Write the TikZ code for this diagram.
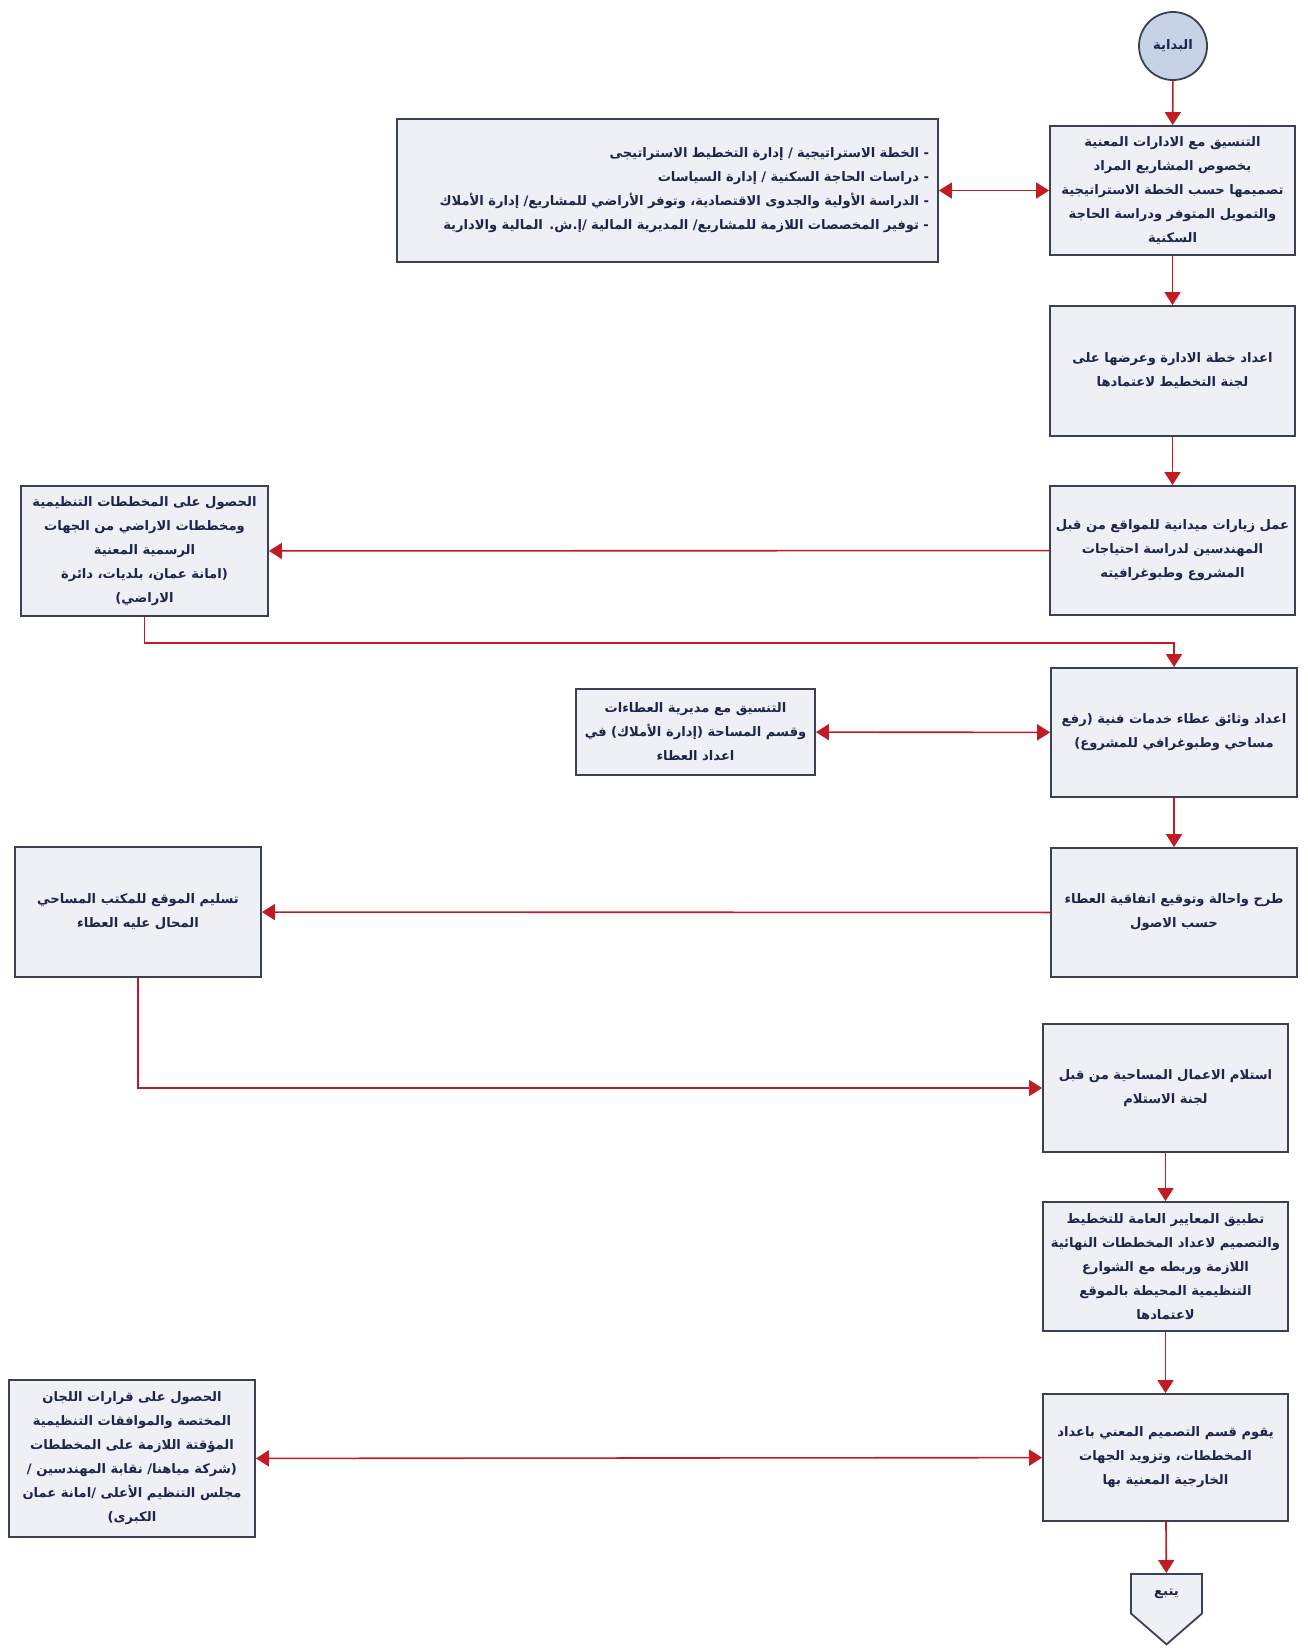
\documentclass[tikz,border=0pt]{standalone}
\usepackage{fontspec}
\newfontfamily\arabicfont[Script=Arabic]{DejaVu Sans}
\TeXXeTstate=1
\usetikzlibrary{arrows.meta,shapes.symbols}
\definecolor{boxfill}{RGB}{238,240,245}
\definecolor{boxline}{RGB}{58,66,82}
\definecolor{startfill}{RGB}{198,211,230}
\definecolor{txtcol}{RGB}{28,38,72}
\definecolor{flowred}{RGB}{192,28,34}
\newcommand{\artxt}[1]{\beginR #1\endR}
\begin{document}
\begin{tikzpicture}[x=1pt,y=-1pt,
  box/.style={draw=boxline,line width=1.8pt,fill=boxfill,text=txtcol,align=center,inner sep=3pt,
    font=\arabicfont\bfseries\fontsize{13.1}{24}\selectfont},
  flow/.style={draw=flowred,line width=1.6pt,-{Triangle[width=16pt,length=13pt]}},
  twoway/.style={flow,{Triangle[width=16pt,length=13pt]}-{Triangle[width=16pt,length=13pt]}}]
\useasboundingbox (0,0) rectangle (1307,1649);

% main column
\node[box,circle,fill=startfill,minimum size=68pt,inner sep=0pt] (start) at (1173,46) {\artxt{البداية}};
\node[box,minimum width=245pt,minimum height=129pt] (b1) at (1172.5,190.5)
  {\artxt{التنسيق مع الادارات المعنية}\\\artxt{بخصوص المشاريع  المراد}\\\artxt{تصميمها حسب الخطة الاستراتيجية}\\\artxt{والتمويل المتوفر ودراسة الحاجة}\\\artxt{السكنية}};
\node[box,minimum width=245pt,minimum height=130pt] (b2) at (1172.5,371)
  {\artxt{اعداد خطة الادارة وعرضها على}\\\artxt{لجنة التخطيط لاعتمادها}};
\node[box,minimum width=245pt,minimum height=129pt] (b3) at (1172.5,550.5)
  {\artxt{عمل زيارات ميدانية للمواقع من قبل}\\\artxt{المهندسين لدراسة احتياجات}\\\artxt{المشروع وطبوغرافيته}};
\node[box,minimum width=246pt,minimum height=129pt] (b4) at (1174,732.5)
  {\artxt{اعداد وثائق عطاء خدمات فنية (رفع}\\\artxt{مساحي وطبوغرافي للمشروع)}};
\node[box,minimum width=246pt,minimum height=129pt] (b5) at (1174,912.5)
  {\artxt{طرح واحالة وتوقيع اتفاقية العطاء}\\\artxt{حسب الاصول}};
\node[box,minimum width=245pt,minimum height=128pt] (b6) at (1165.5,1088)
  {\artxt{استلام الاعمال المساحية من قبل}\\\artxt{لجنة الاستلام}};
\node[box,minimum width=245pt,minimum height=129pt] (b7) at (1165.5,1266.5)
  {\artxt{تطبيق المعايير العامة للتخطيط}\\\artxt{والتصميم لاعداد المخططات النهائية}\\\artxt{اللازمة وربطه مع الشوارع}\\\artxt{التنظيمية المحيطة بالموقع}\\\artxt{لاعتمادها}};
\node[box,minimum width=245pt,minimum height=127pt] (b8) at (1165.5,1457.5)
  {\artxt{يقوم قسم التصميم المعني باعداد}\\\artxt{المخططات، وتزويد الجهات}\\\artxt{الخارجية المعنية بها}};
\node[box,shape=signal,signal to=south,signal from=nowhere,signal pointer angle=98,
  minimum width=71pt,minimum height=52pt,inner sep=2pt,anchor=north] (stop) at (1166.5,1573) {\artxt{يتبع}};

% side boxes
\node[box,align=right,text width=523pt,inner sep=9pt,minimum height=143pt] (info) at (667.5,190.5)
  {\artxt{- الخطة الاستراتيجية / إدارة التخطيط الاستراتيجى}\\
   \artxt{- دراسات الحاجة السكنية / إدارة السياسات}\\
   \artxt{- الدراسة الأولية والجدوى الاقتصادية، وتوفر الأراضي للمشاريع/ إدارة الأملاك}\\
   \artxt{- توفير المخصصات اللازمة للمشاريع/ المديرية المالية /إ.ش. المالية والادارية}};
\node[box,minimum width=247pt,minimum height=130pt] (l1) at (144.5,551)
  {\artxt{الحصول على المخططات التنظيمية}\\\artxt{ومخططات الاراضي من الجهات}\\\artxt{الرسمية المعنية}\\\artxt{(امانة عمان، بلديات، دائرة}\\\artxt{الاراضي)}};
\node[box,minimum width=239pt,minimum height=86pt] (l2) at (695.5,732)
  {\artxt{التنسيق مع مديرية العطاءات}\\\artxt{وقسم المساحة (إدارة الأملاك) في}\\\artxt{اعداد العطاء}};
\node[box,minimum width=246pt,minimum height=130pt] (l3) at (138,912)
  {\artxt{تسليم الموقع للمكتب المساحي}\\\artxt{المحال عليه العطاء}};
\node[box,minimum width=246pt,minimum height=157pt] (l4) at (132,1458.5)
  {\artxt{الحصول على قرارات اللجان}\\\artxt{المختصة والموافقات التنظيمية}\\\artxt{المؤقتة اللازمة على المخططات}\\\artxt{(شركة مياهنا/ نقابة المهندسين /}\\\artxt{مجلس التنظيم الأعلى /امانة عمان}\\\artxt{الكبرى)}};

\coordinate (j1) at (144.5,643);

% connectors
\draw[flow] (start) -- (b1);
\draw[twoway] (info) -- (b1);
\draw[flow] (b1) -- (b2);
\draw[flow] (b2) -- (b3);
\draw[flow] (b3) -- (l1);
\draw[flow] (l1.south) -- (j1) -| (b4.north);
\draw[twoway] (l2) -- (b4);
\draw[flow] (b4) -- (b5);
\draw[flow] (b5) -- (l3);
\draw[flow] (l3.south) |- (b6.west);
\draw[flow] (b6) -- (b7);
\draw[flow] (b7) -- (b8);
\draw[twoway] (l4) -- (b8);
\draw[flow] (b8) -- (stop);
\end{tikzpicture}
\end{document}
